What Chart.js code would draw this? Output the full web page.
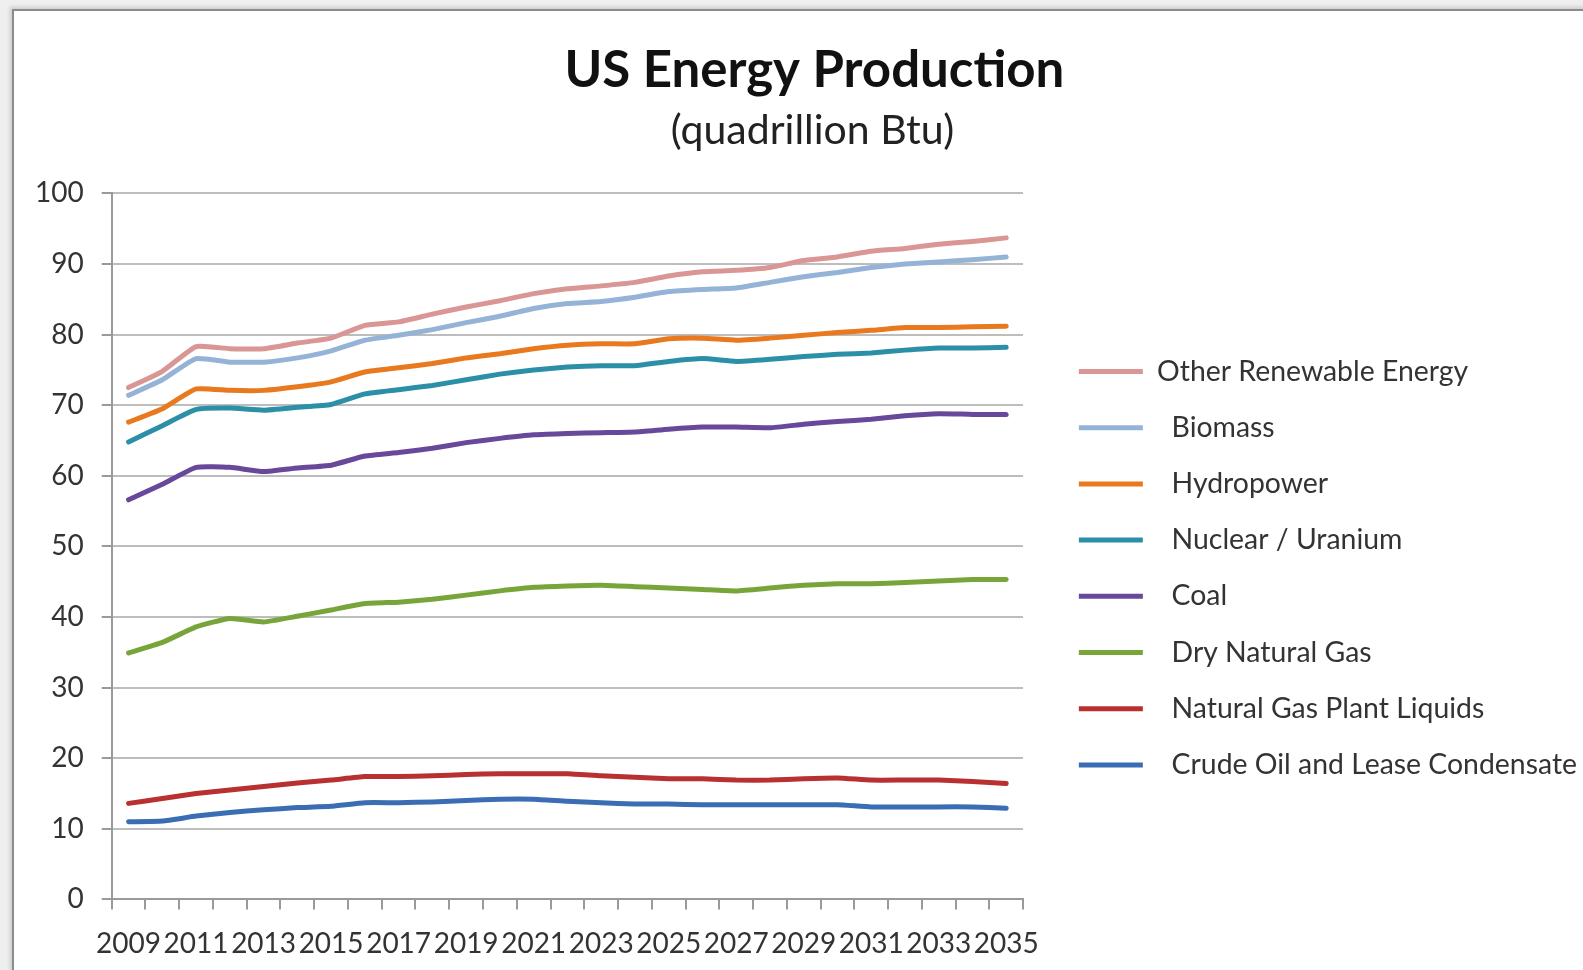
<!DOCTYPE html>
<html>
<head>
<meta charset="utf-8">
<title>US Energy Production</title>
<script src="https://cdn.jsdelivr.net/npm/chart.js@4.4.1/dist/chart.umd.min.js"></script>
<style>
  html, body { margin: 0; padding: 0; background: #efefef; overflow: hidden; }
  .frame {
    position: absolute; left: 12px; top: 9px; right: -4px; bottom: -4px;
    background: #fff; border-left: 2px solid #8c8c8c; border-top: 2px solid #8c8c8c;
    box-shadow: -2px -2px 4px rgba(0,0,0,0.15);
  }
  .wrap { position: absolute; left: 0; top: 0; width: 1583px; height: 970px; }
</style>
</head>
<body>
<div class="frame"></div>
<div class="wrap"><canvas id="energyChart"></canvas></div>
<script>
// category labels (years)
const years = ['2009','2010','2011','2012','2013','2014','2015','2016','2017','2018','2019','2020','2021','2022',
               '2023','2024','2025','2026','2027','2028','2029','2030','2031','2032','2033','2034','2035'];

// series (cumulative totals as shown, quadrillion Btu)
const otherRenewable = [72.5, 74.8, 78.3, 78.0, 78.0, 78.8, 79.5, 81.3, 81.8, 82.9, 83.9, 84.8, 85.8, 86.5,
                        86.9, 87.4, 88.3, 88.9, 89.1, 89.5, 90.5, 91.0, 91.8, 92.2, 92.8, 93.2, 93.7];
const biomass = [71.4, 73.6, 76.6, 76.1, 76.1, 76.7, 77.7, 79.2, 79.9, 80.7, 81.7, 82.6, 83.7, 84.4,
                 84.7, 85.3, 86.1, 86.4, 86.6, 87.4, 88.2, 88.8, 89.5, 90.0, 90.3, 90.6, 91.0];
const hydropower = [67.6, 69.5, 72.3, 72.1, 72.1, 72.6, 73.3, 74.7, 75.3, 75.9, 76.7, 77.3, 78.0, 78.5,
                    78.7, 78.7, 79.4, 79.5, 79.2, 79.5, 79.9, 80.3, 80.6, 81.0, 81.0, 81.1, 81.2];
const nuclear = [64.8, 67.1, 69.4, 69.6, 69.3, 69.7, 70.1, 71.6, 72.2, 72.8, 73.6, 74.4, 75.0, 75.4,
                 75.6, 75.6, 76.2, 76.6, 76.2, 76.5, 76.9, 77.2, 77.4, 77.8, 78.1, 78.1, 78.2];
const coal = [56.6, 58.8, 61.2, 61.2, 60.6, 61.1, 61.5, 62.8, 63.3, 63.9, 64.7, 65.3, 65.8, 66.0,
              66.1, 66.2, 66.6, 66.9, 66.9, 66.8, 67.3, 67.7, 68.0, 68.5, 68.8, 68.7, 68.7];
const dryNaturalGas = [34.9, 36.4, 38.6, 39.8, 39.3, 40.1, 41.0, 41.9, 42.1, 42.5, 43.1, 43.7, 44.2, 44.4,
                       44.5, 44.3, 44.1, 43.9, 43.7, 44.1, 44.5, 44.7, 44.7, 44.9, 45.1, 45.3, 45.3];
const gasPlantLiquids = [13.6, 14.3, 15.0, 15.5, 16.0, 16.5, 16.9, 17.4, 17.4, 17.5, 17.7, 17.8, 17.8, 17.8,
                         17.5, 17.3, 17.1, 17.1, 16.9, 16.9, 17.1, 17.2, 16.9, 16.9, 16.9, 16.7, 16.4];
const crudeOil = [11.0, 11.1, 11.8, 12.3, 12.7, 13.0, 13.2, 13.7, 13.7, 13.8, 14.0, 14.2, 14.2, 13.9,
                  13.7, 13.5, 13.5, 13.4, 13.4, 13.4, 13.4, 13.4, 13.1, 13.1, 13.1, 13.1, 12.9];

const seriesNames = ['Other Renewable Energy', 'Biomass', 'Hydropower', 'Nuclear / Uranium', 'Coal',
                     'Dry Natural Gas', 'Natural Gas Plant Liquids', 'Crude Oil and Lease Condensate'];
const seriesData = [otherRenewable, biomass, hydropower, nuclear, coal, dryNaturalGas, gasPlantLiquids, crudeOil];
const seriesColors = ['#d99694', '#95b3d7', '#e8791f', '#2b8fa7', '#68489a', '#78a53a', '#b8302f', '#3b6db4'];

// y axis ticks
const yMin = 0, yMax = 100, yStep = 10;

const fontFamily = "Lato, 'Open Sans', sans-serif";

const datasets = seriesNames.map((name, i) => ({
    label: name,
    data: seriesData[i],
    borderColor: seriesColors[i],
    backgroundColor: seriesColors[i],
    borderWidth: 5,
    borderCapStyle: 'round',
    borderJoinStyle: 'round',
    pointRadius: 0,
    tension: 0.15,
    fill: false
}));

new Chart(document.getElementById('energyChart'), {
    type: 'line',
    data: { labels: years, datasets: datasets },
    options: {
        responsive: true,
        maintainAspectRatio: false,
        animation: false,
        layout: { padding: { left: 17, right: -4, top: 0, bottom: -9 } },
        plugins: {
            title: {
                display: true,
                // two leading spaces nudge the centred title to the right, as in the original
                text: '  US Energy Production',
                color: '#111',
                font: { family: fontFamily, size: 51, weight: 'bold' },
                padding: { top: 40, bottom: 0 }
            },
            subtitle: {
                display: true,
                text: '  (quadrillion Btu)',
                color: '#222',
                font: { family: fontFamily, size: 41 },
                padding: { top: 5, bottom: 38 }
            },
            legend: {
                position: 'right',
                align: 'center',
                maxWidth: 600,
                // empty title only used to push the entries down
                title: { display: true, text: '', font: { size: 10 }, padding: { top: 72.7, bottom: 72.7 } },
                labels: {
                    color: '#333',
                    font: { family: fontFamily, size: 28.4 },
                    boxWidth: 64,
                    boxHeight: 5,
                    padding: 27.8,
                    generateLabels: chart => {
                        const items = Chart.defaults.plugins.legend.labels.generateLabels(chart);
                        // Excel legend: all but the first entry start after a small indent
                        items.forEach((it, i) => {
                            it.lineWidth = 0;
                            if (i > 0) it.text = '  ' + it.text;
                        });
                        return items;
                    }
                }
            },
            tooltip: { enabled: false }
        },
        scales: {
            x: {
                offset: true,
                grid: { display: true, drawOnChartArea: false, drawTicks: true, tickLength: 10,
                        offset: true, color: '#9a9a9a', lineWidth: 2 },
                border: { display: true, color: '#9a9a9a', width: 2 },
                ticks: {
                    autoSkip: false, maxRotation: 0, padding: 18, color: '#333',
                    font: { family: fontFamily, size: 28 },
                    callback: function(value, index) {
                        return index % 2 === 0 ? this.getLabelForValue(value) : '';
                    }
                }
            },
            y: {
                min: yMin, max: yMax,
                grid: { color: '#bdbdbd', lineWidth: 2, tickLength: 10, tickColor: '#9a9a9a' },
                border: { display: true, color: '#9a9a9a', width: 2 },
                ticks: { stepSize: yStep, padding: 18, color: '#333', font: { family: fontFamily, size: 28 } }
            },
            // spacer between plot and legend
            yGap: {
                position: 'right',
                display: true,
                grid: { display: false },
                border: { display: false },
                ticks: { display: false },
                afterFit: s => { s.width = 28; }
            }
        }
    }
});
</script>
</body>
</html>
